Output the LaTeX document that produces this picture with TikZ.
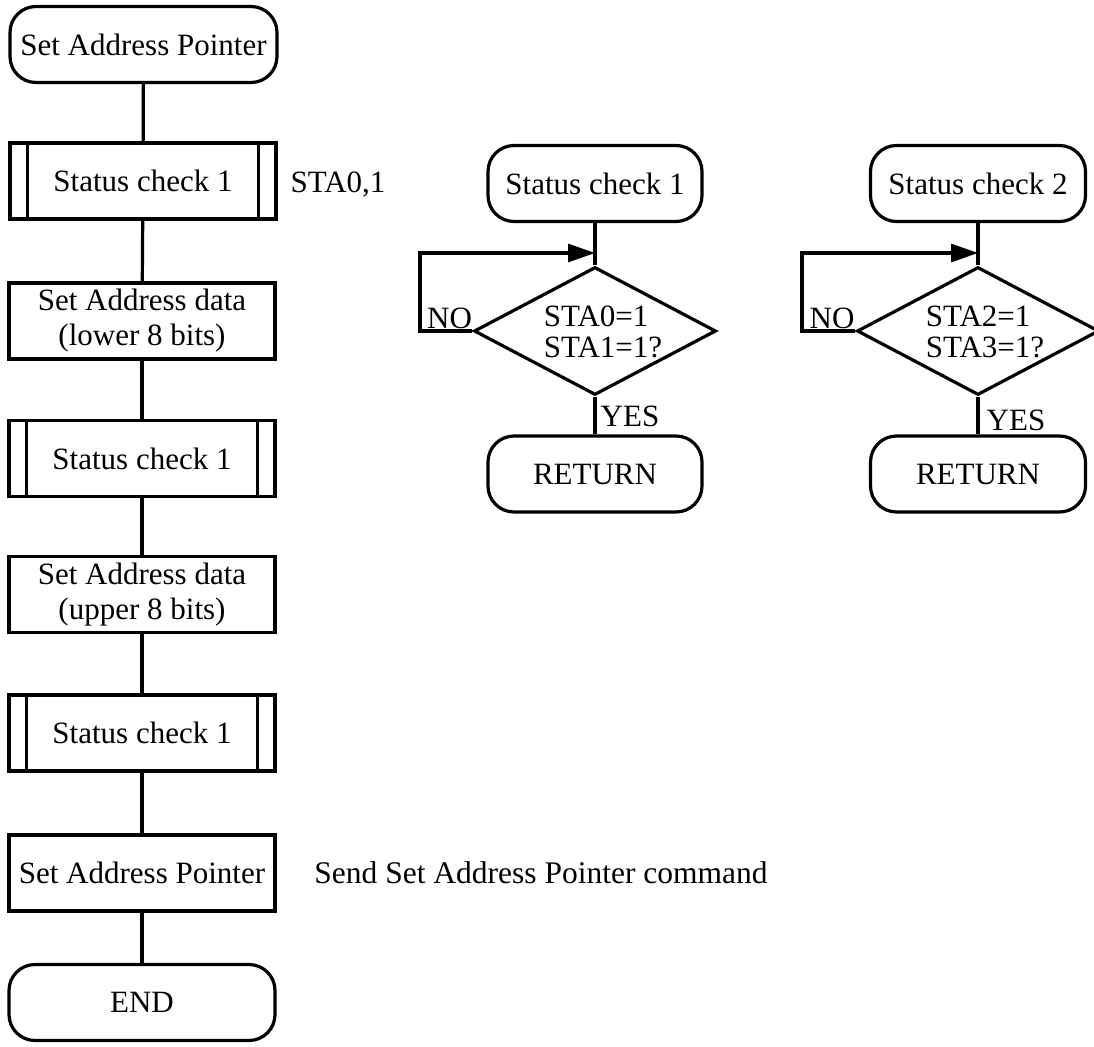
\documentclass[tikz,border=0pt]{standalone}
\usepackage{fontspec}
\setmainfont{Liberation Serif}
\usetikzlibrary{shapes.geometric,arrows.meta}
\begin{document}
\begin{tikzpicture}[x=1pt,y=-1pt,line width=3.2pt,
  every node/.style={font=\fontsize{31}{35}\selectfont},
  term/.style={draw,rounded corners=26pt,minimum width=#1,minimum height=76pt,inner sep=0pt},
  procbox/.style={draw,minimum width=266pt,minimum height=76pt,inner sep=0pt,align=center},
  subbox/.style={draw,minimum width=266pt,minimum height=76pt,inner sep=0pt},
  decision/.style={draw,diamond,minimum width=242pt,minimum height=128pt,inner sep=0pt},
  plain/.style={inner sep=0pt,align=center},
  dtext/.style={inner sep=0pt,align=left,font=\fontsize{31}{31}\selectfont},
  flow/.style={line width=3.2pt},
  loopar/.style={line width=3.2pt,-{Triangle[length=27pt,width=18pt]}}
]
\useasboundingbox (0,0) rectangle (1094,1046);

% main column
\node[term=267pt] (start) at (143.5,44.5) {Set Address Pointer};
\node[subbox] (sca) at (143,181) {Status check 1};
\node[procbox] (lo) at (142,321) {Set Address data\\(lower 8 bits)};
\node[subbox] (scb) at (142,458.5) {Status check 1};
\node[procbox] (hi) at (142,594.5) {Set Address data\\(upper 8 bits)};
\node[subbox] (scc) at (142,733) {Status check 1};
\node[procbox] (sap) at (142,873) {Set Address Pointer};
\node[term=266pt] (end) at (142,1002.5) {END};

\foreach \n in {sca,scb,scc}{
  \draw ([xshift=19pt]\n.north west) -- ([xshift=19pt]\n.south west);
  \draw ([xshift=-19pt]\n.north east) -- ([xshift=-19pt]\n.south east);
}

\node[plain] (sta) at (338,185) {STA0,1};
\node[plain,font=\fontsize{31.5}{35}\selectfont] (cmd) at (541,873) {Send Set Address Pointer command};

\draw[flow] (start) -- (sca);
\draw[flow] (sca) -- (lo);
\draw[flow] (lo) -- (scb);
\draw[flow] (scb) -- (hi);
\draw[flow] (hi) -- (scc);
\draw[flow] (scc) -- (sap);
\draw[flow] (sap) -- (end);

% status check 1
\node[term=214pt] (s1) at (595,183.5) {Status check 1};
\node[decision] (d1) at (595,331) {};
\node[dtext] (d1t) at (603,332) {STA0=1\\STA1=1?};
\node[term=214pt] (r1) at (595,474) {RETURN};
\coordinate (j1) at (595,253);
\coordinate (l1) at (420,253);
\node[plain] (no1) at (449.5,318) {NO};
\node[plain] (yes1) at (630,416) {YES};
\draw[flow] (s1) -- (d1);
\draw[flow] (d1) -- (r1);
\draw[loopar] (d1.west) -| (l1) -- (j1);

% status check 2
\node[term=215pt] (s2) at (978,183.5) {Status check 2};
\node[decision] (d2) at (978,331) {};
\node[dtext] (d2t) at (985,332) {STA2=1\\STA3=1?};
\node[term=215pt] (r2) at (978,474) {RETURN};
\coordinate (j2) at (978,253);
\coordinate (l2) at (802,253);
\node[plain] (no2) at (832,318) {NO};
\node[plain] (yes2) at (1016,420) {YES};
\draw[flow] (s2) -- (d2);
\draw[flow] (d2) -- (r2);
\draw[loopar] (d2.west) -| (l2) -- (j2);
\end{tikzpicture}
\end{document}
